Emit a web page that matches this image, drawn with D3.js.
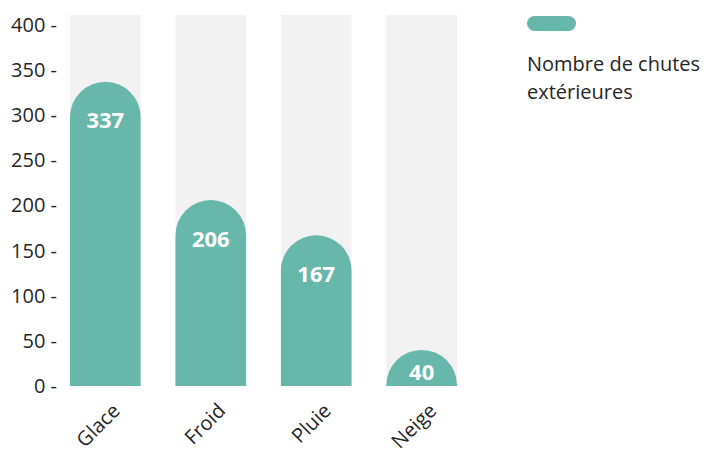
<!DOCTYPE html>
<html>
<head>
<meta charset="utf-8">
<script src="https://cdn.jsdelivr.net/npm/d3@7"></script>
<style>
  body { margin: 0; background: #fff; }
  text { font-family: "Open Sans", sans-serif; fill: #262626; }
</style>
</head>
<body>
<svg id="chart" width="704" height="453"></svg>
<script>
// data
var categories = ["Glace", "Froid", "Pluie", "Neige"];
var values = [337, 206, 167, 40];
var yTicks = [0, 50, 100, 150, 200, 250, 300, 350, 400];
var seriesName = ["Nombre de chutes", "extérieures"];

var svg = d3.select("#chart"),
    margin = {top: 15, left: 70, bottom: 67},
    plotW = 387,
    height = 453 - margin.top - margin.bottom;

var x = d3.scaleBand().domain(categories).range([0, plotW]).paddingInner(0.33).paddingOuter(0);
var y = d3.scaleLinear().domain([0, 411]).range([height, 0]);

var g = svg.append("g")
    .attr("transform", "translate(" + margin.left + "," + margin.top + ")");

// background bars
g.selectAll(".bg")
    .data(categories)
    .enter().append("rect")
    .attr("class", "bg")
    .attr("x", function(d) { return x(d); })
    .attr("y", 0)
    .attr("width", x.bandwidth())
    .attr("height", height)
    .attr("fill", "#f2f2f2");

// bars with round top
var r = x.bandwidth() / 2;
function barPath(d, i) {
  var x0 = x(categories[i]), x1 = x0 + x.bandwidth(), top = y(d), base = y(0);
  return "M" + x0 + "," + base +
    "L" + x0 + "," + (top + r) +
    "A" + r + "," + r + " 0 0 1 " + x1 + "," + (top + r) +
    "L" + x1 + "," + base + "Z";
}

g.append("clipPath").attr("id", "plotClip")
  .append("rect").attr("x", 0).attr("y", 0).attr("width", plotW).attr("height", height);

g.selectAll(".bar")
    .data(values)
    .enter().append("path")
    .attr("class", "bar")
    .attr("clip-path", "url(#plotClip)")
    .attr("d", barPath)
    .attr("fill", "#67b8aa");

g.selectAll(".val")
    .data(values)
    .enter().append("text")
    .attr("class", "val")
    .attr("x", function(d, i) { return x(categories[i]) + r; })
    .attr("y", function(d) { return Math.min(y(d) + 39, y(0) - 14); })
    .attr("dy", "0.35em")
    .attr("text-anchor", "middle")
    .style("fill", "#fff")
    .style("font-weight", "bold")
    .style("font-size", "22px")
    .text(function(d) { return d; });

// y axis
var yAxis = g.append("g")
    .call(d3.axisLeft(y).tickValues(yTicks).tickSize(0).tickPadding(13)
      .tickFormat(function(d) { return d + " -"; }));
yAxis.select(".domain").remove();
yAxis.selectAll("text").style("font-size", "20px").style("font-family", "Open Sans, sans-serif").attr("fill", "#262626");

// x axis labels
var xAxis = g.append("g")
    .attr("transform", "translate(0," + height + ")")
    .call(d3.axisBottom(x).tickSize(0).tickPadding(0));
xAxis.select(".domain").remove();
xAxis.selectAll("text")
    .style("font-size", "20px")
    .style("font-family", "Open Sans, sans-serif")
    .attr("fill", "#262626")
    .attr("text-anchor", "end")
    .attr("y", 0)
    .attr("dy", "0.35em")
    .attr("transform", "translate(11,21) rotate(-45)");

// legend
var legend = svg.append("g").attr("transform", "translate(527,16)");
legend.append("rect")
    .attr("width", 49).attr("height", 15).attr("rx", 7.5)
    .attr("fill", "#67b8aa");
legend.selectAll("text")
    .data(seriesName)
    .enter().append("text")
    .attr("x", 0)
    .attr("y", function(d, i) { return 48 + i * 28; })
    .attr("dy", "0.35em")
    .style("font-size", "20px")
    .text(function(d) { return d; });
</script>
</body>
</html>
